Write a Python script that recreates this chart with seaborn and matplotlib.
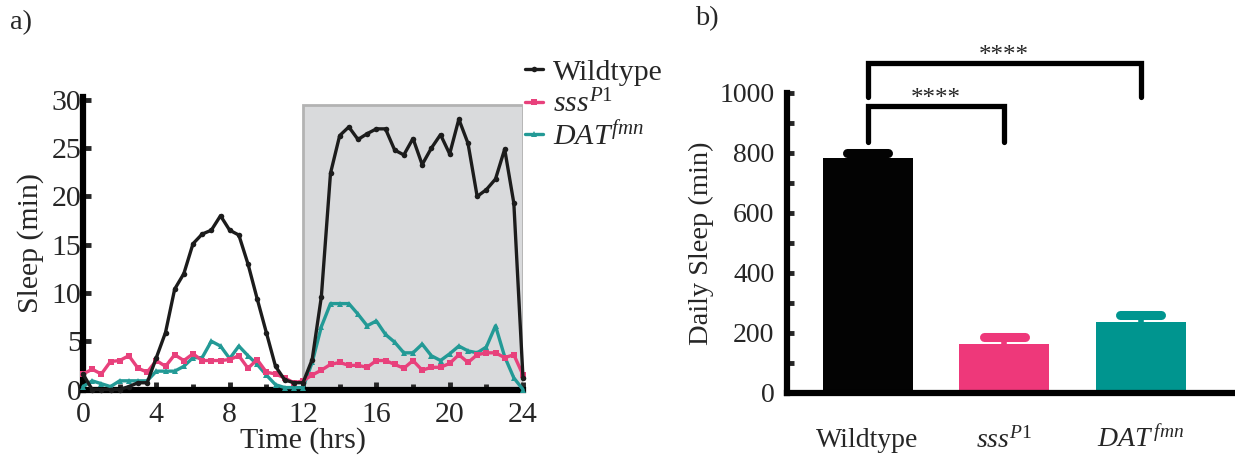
import numpy as np
import matplotlib
matplotlib.use("Agg")
import matplotlib.pyplot as plt
import seaborn as sns
import pandas as pd

# ---------------- data ----------------
hours = np.arange(0, 24.5, 0.5)
wildtype = [1.6, 0.0, 0.0, 0.0, 0.0, 0.3, 0.7, 0.7, 3.3, 5.9, 10.4, 12.0, 15.1, 16.1, 16.5, 18.0,
            16.5, 16.0, 13.0, 9.4, 5.9, 2.4, 1.0, 0.7, 0.7, 3.1, 9.6, 22.4, 26.3, 27.2, 25.9, 26.5,
            27.0, 27.0, 24.8, 24.3, 26.0, 23.3, 25.0, 26.4, 24.4, 28.0, 25.5, 20.0, 20.7, 21.8, 24.9,
            19.3, 1.2]
sss = [1.6, 2.1, 1.6, 2.9, 3.0, 3.5, 2.2, 1.8, 3.0, 2.4, 3.6, 3.0, 3.7, 3.0, 3.0, 3.0,
       3.1, 3.5, 2.2, 3.1, 1.8, 1.6, 1.2, 0.7, 0.9, 1.5, 2.0, 2.6, 2.8, 2.5, 2.5, 2.3,
       3.0, 3.0, 2.6, 2.2, 3.0, 2.0, 2.3, 2.3, 2.7, 3.6, 2.8, 3.6, 3.8, 3.8, 3.3,
       3.6, 1.5]
dat = [0.3, 0.9, 0.6, 0.3, 0.9, 0.9, 0.9, 0.9, 1.9, 1.9, 1.9, 2.4, 3.3, 3.3, 5.0, 4.5,
       3.2, 4.5, 3.5, 2.6, 1.5, 0.5, 0.2, 0.2, 0.2, 2.8, 6.5, 8.9, 8.9, 8.9, 7.8, 6.6,
       7.1, 5.7, 4.9, 3.8, 3.8, 4.7, 3.5, 3.0, 3.7, 4.5, 4.0, 3.8, 4.4, 6.6, 3.4,
       1.2, 0.0]

genotypes = ["Wildtype", "sss", "DAT"]
genotype_labels = ["Wildtype", r"$\mathit{sss}^{\mathit{P1}}$", r"$\mathit{DAT}^{\mathit{fmn}}$"]
bar_tick_labels = ["Wildtype", r"$\mathit{sss}^{\mathit{P1}}$", r"$\mathit{DAT}^{\,\mathit{fmn}}$"]
daily_sleep = [781, 163, 238]
daily_sem = [17, 24, 23]
sig_labels = ["****", "****"]

line_colors = ["#1c1c1c", "#e8417c", "#239a96"]
bar_colors = ["#030303", "#ee387a", "#00958f"]
markers = ["o", "s", "^"]

# ---------------- style ----------------
sns.set_style("ticks")
plt.rcParams["font.family"] = ["Liberation Serif", "DejaVu Serif"]
plt.rcParams["mathtext.fontset"] = "custom"
plt.rcParams["mathtext.rm"] = "Liberation Serif"
plt.rcParams["mathtext.it"] = "Liberation Serif:italic"
FSA_TICK = 21.5
FSA_LAB = 21.5
FSB_TICK = 20
FSB_LAB = 20.5

fig = plt.figure(figsize=(12.35, 4.55), dpi=100)
W, H = 1235, 455

# ---------------- panel a ----------------
axa = fig.add_axes([83 / W, (H - 389.5) / H, 440 / W, (389.5 - 97) / H])
axa.axvspan(12, 24, ymin=0, ymax=29.5 / 30.3, facecolor="#d9dadc", edgecolor="#b3b3b3",
            linewidth=2, zorder=0)
series = [wildtype, sss, dat]
order = [2, 1, 0]
for i in order:
    sns.lineplot(x=hours, y=series[i], ax=axa, color=line_colors[i], linewidth=2.4,
                 marker=markers[i], markersize=4, markeredgewidth=0,
                 label=genotype_labels[i], zorder=3 + (2 - i), clip_on=False)
axa.set_xlim(0, 24)
axa.set_ylim(0, 30.3)
axa.set_xticks([0, 4, 8, 12, 16, 20, 24])
axa.set_xticks([2, 6, 10, 14, 18, 22], minor=True)
axa.set_yticks([0, 5, 10, 15, 20, 25, 30])
axa.tick_params(axis="both", which="major", direction="in", labelsize=FSA_TICK, width=3.5,
                length=6)
axa.tick_params(axis="x", which="minor", direction="in", width=3.5, length=4)
axa.tick_params(axis="y", pad=1)
axa.tick_params(axis="x", pad=9)
for s in ["top", "right"]:
    axa.spines[s].set_visible(False)
for s in ["left", "bottom"]:
    axa.spines[s].set_linewidth(4.5)
    axa.spines[s].set_color("black")
axa.spines["left"].set_bounds(0, 30.3)
axa.set_xlabel("Time (hrs)", fontsize=FSA_LAB, labelpad=-1)
axa.set_ylabel("Sleep (min)", fontsize=FSA_LAB, labelpad=6)

h, l = axa.get_legend_handles_labels()
idx = [l.index(lbl) for lbl in genotype_labels]
axa.legend([h[k] for k in idx], [l[k] for k in idx], loc="upper left",
           bbox_to_anchor=(525 / W, 1 - 59 / H), bbox_transform=fig.transFigure,
           frameon=False, fontsize=FSA_LAB, handlelength=0.6, handletextpad=0.35,
           labelspacing=0.12, borderpad=0, borderaxespad=0)

# ---------------- panel b ----------------
axb = fig.add_axes([787 / W, (H - 393) / H, (W - 787) / W, 300.3 / H])
df = pd.DataFrame({"genotype": genotypes, "sleep": daily_sleep})
sns.barplot(data=df, x="genotype", y="sleep", hue="genotype", palette=bar_colors,
            width=0.66, ax=axb, legend=False, errorbar=None, saturation=1, linewidth=0)
xpos = np.arange(len(genotypes))
tops = np.array(daily_sleep) + np.array(daily_sem)
for i in range(len(genotypes)):
    axb.vlines(xpos[i], daily_sleep[i], tops[i], color=bar_colors[i], linewidth=4, zorder=3)
    axb.plot([xpos[i] - 0.15, xpos[i] + 0.15], [tops[i], tops[i]], color=bar_colors[i],
             linewidth=6.5, solid_capstyle="round", zorder=3)
axb.set_xlim(-0.59, 2.69)
axb.set_ylim(0, 1000)
axb.set_yticks([0, 200, 400, 600, 800, 1000])
axb.set_yticks([100, 300, 500, 700, 900], minor=True)
axb.set_xticks(xpos)
axb.set_xticklabels(bar_tick_labels)
axb.tick_params(axis="y", which="major", direction="in", labelsize=FSB_TICK, width=3.5,
                length=5, pad=9)
axb.tick_params(axis="y", which="minor", direction="in", width=3.5, length=5)
axb.tick_params(axis="x", length=0, labelsize=FSB_TICK, pad=39)
for lbl in axb.get_xticklabels():
    lbl.set_verticalalignment("baseline")
for s in ["top", "right"]:
    axb.spines[s].set_visible(False)
for s in ["left", "bottom"]:
    axb.spines[s].set_linewidth(4.5)
    axb.spines[s].set_color("black")
axb.set_xlabel("")
axb.set_ylabel("Daily Sleep (min)", fontsize=FSB_LAB, labelpad=4)

# significance brackets
brackets = [(0, 2, 1100, 987), (0, 1, 957, 837)]
for (x0, x1, ytop, ybot), lab in zip(brackets, sig_labels):
    axb.plot([x0, x0, x1, x1], [ybot, ytop, ytop, ybot], color="black", linewidth=3.8,
             solid_capstyle="round", solid_joinstyle="miter", clip_on=False)
    axb.text((x0 + x1) / 2, ytop + 3, lab, ha="center", va="baseline", fontsize=18,
             clip_on=False)

fig.text(10 / W, 1 - 10 / H, "a)", fontsize=FSB_LAB, va="top", ha="left")
fig.text(695 / W, 1 - 6 / H, "b)", fontsize=FSB_LAB, va="top", ha="left")

fig.savefig("out.png", dpi=100)
